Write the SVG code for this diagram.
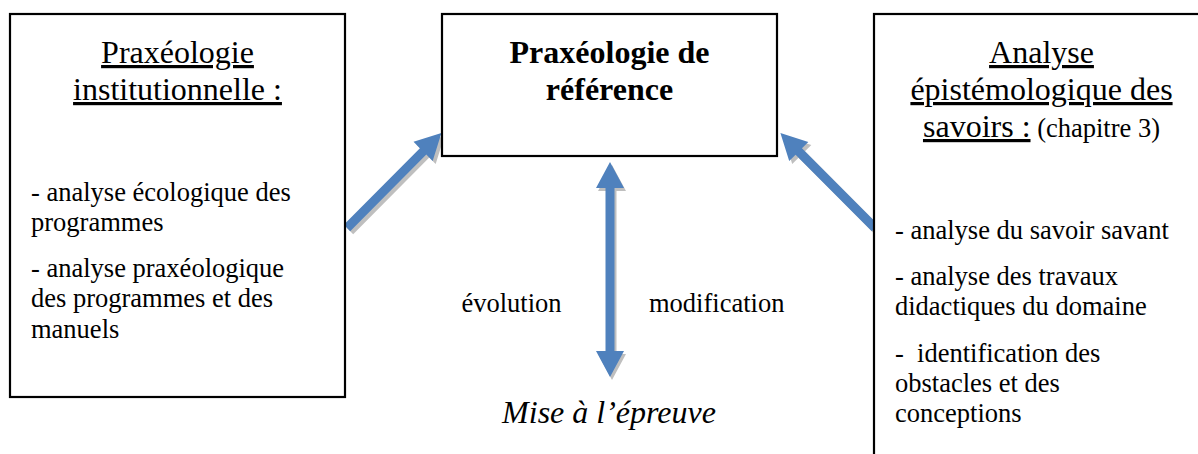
<svg xmlns="http://www.w3.org/2000/svg" width="1198" height="454" viewBox="0 0 1198 454">
<style>
  .box { fill: #ffffff; stroke: #000000; stroke-width: 2.2; }
  .title { font-family: "Liberation Serif", "Times New Roman", serif; font-size: 32px; fill: #000; }
  .body { font-family: "Liberation Serif", "Times New Roman", serif; font-size: 26.5px; fill: #000; white-space: pre; }
  .u { text-decoration: underline; }
  .bold { font-weight: bold; }
  .arrow { fill: #4F81BD; }
  .shadow { fill: #BFBFBF; }
</style>
<defs>
  <polygon id="arr1" points="0,-4.5 108,-4.5 108,-13.5 134,0 108,13.5 108,4.5 0,4.5"/>
  <polygon id="arr2" points="0,0 26,-14 26,-4.5 189,-4.5 189,-14 215,0 189,14 189,4.5 26,4.5 26,14"/>
</defs>
<rect width="1198" height="454" fill="#ffffff"/>

<g id="connectors">
  <g id="arrow-left">
    <use href="#arr1" class="shadow" transform="translate(350,231) rotate(-45.2)"/>
    <use href="#arr1" class="arrow" transform="translate(347,228) rotate(-45.2)"/>
  </g>
  <g id="arrow-right">
    <use href="#arr1" class="shadow" transform="translate(878,231) rotate(-134.9)"/>
    <use href="#arr1" class="arrow" transform="translate(875,228) rotate(-134.9)"/>
  </g>
  <g id="arrow-vertical">
    <use href="#arr2" class="shadow" transform="translate(612,165) rotate(90)"/>
    <use href="#arr2" class="arrow" transform="translate(610,162) rotate(90)"/>
  </g>
</g>

<g id="node-left">
  <rect class="box" x="10" y="14" width="335" height="383"/>
  <text class="title u" x="177.5" y="63" text-anchor="middle">Praxéologie</text>
  <text class="title u" x="177.5" y="100" text-anchor="middle">institutionnelle :</text>
  <text class="body" x="31" y="201">- analyse écologique des</text>
  <text class="body" x="31" y="231">programmes</text>
  <text class="body" x="31" y="277">- analyse praxéologique</text>
  <text class="body" x="31" y="307">des programmes et des</text>
  <text class="body" x="31" y="338">manuels</text>
</g>

<g id="node-center">
  <rect class="box" x="442" y="14" width="335" height="142"/>
  <text class="title bold" x="609.5" y="63" text-anchor="middle">Praxéologie de</text>
  <text class="title bold" x="609.5" y="100" text-anchor="middle">référence</text>
</g>

<g id="node-right">
  <rect class="box" x="874" y="14" width="400" height="500"/>
  <text class="title u" x="1041.5" y="63" text-anchor="middle">Analyse</text>
  <text class="title u" x="1041.5" y="100" text-anchor="middle">épistémologique des</text>
  <text class="title" x="1041.5" y="137" text-anchor="middle"><tspan class="u">savoirs :</tspan><tspan font-size="26.5px"> (chapitre 3)</tspan></text>
  <text class="body" x="895" y="239">- analyse du savoir savant</text>
  <text class="body" x="895" y="285">- analyse des travaux</text>
  <text class="body" x="895" y="315">didactiques du domaine</text>
  <text class="body" x="895" y="362">-  identification des</text>
  <text class="body" x="895" y="392">obstacles et des</text>
  <text class="body" x="895" y="422">conceptions</text>
</g>

<g id="labels">
  <text class="body" x="461.5" y="312">évolution</text>
  <text class="body" x="649" y="312">modification</text>
  <text class="title" x="609" y="423" text-anchor="middle" font-style="italic">Mise à l’épreuve</text>
</g>
</svg>
